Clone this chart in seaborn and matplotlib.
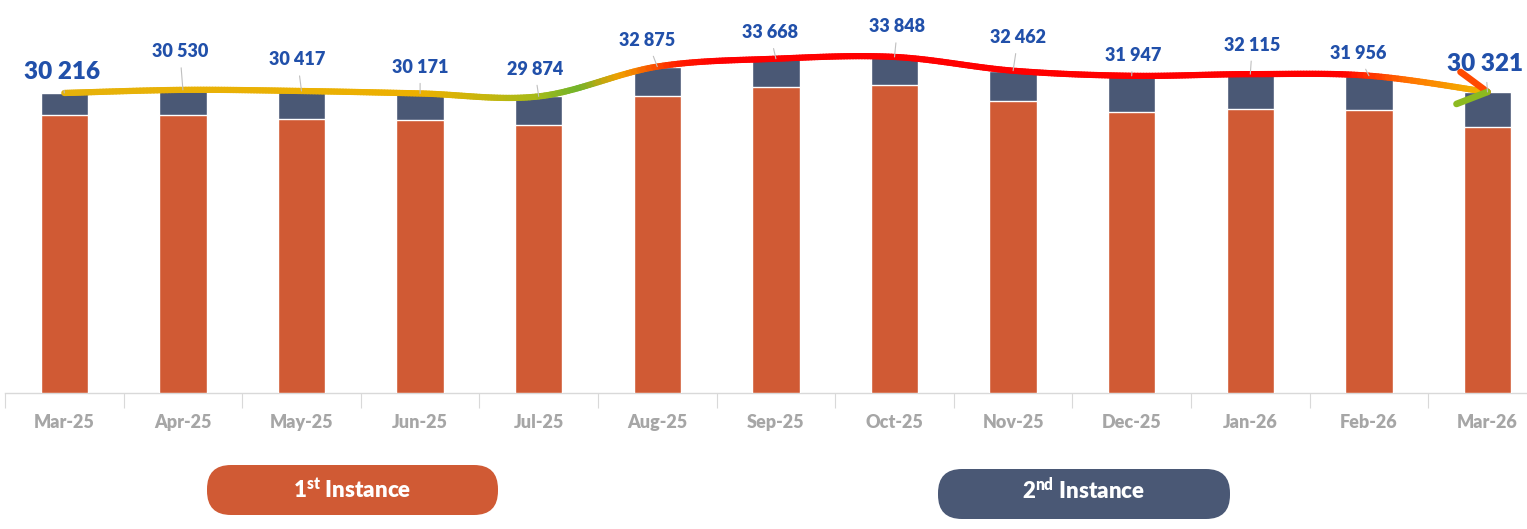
import numpy as np
import pandas as pd
import matplotlib
matplotlib.use("Agg")
import matplotlib.pyplot as plt
import seaborn as sns
from matplotlib.collections import LineCollection
from matplotlib.colors import LinearSegmentedColormap
from matplotlib.patches import FancyBboxPatch

# ---------------- data ----------------
months = ["Mar-25", "Apr-25", "May-25", "Jun-25", "Jul-25", "Aug-25", "Sep-25",
          "Oct-25", "Nov-25", "Dec-25", "Jan-26", "Feb-26", "Mar-26"]
first_instance = [28000, 28000, 27600, 27500, 27000, 29900, 30800,
                  31000, 29400, 28300, 28600, 28500, 26800]
second_instance = [2216, 2530, 2817, 2671, 2874, 2975, 2868,
                   2848, 3062, 3647, 3515, 3456, 3521]
series_names = ["1st Instance", "2nd Instance"]

# ---------------- style ----------------
ORANGE = "#D05A34"
NAVY = "#4A5875"
BLUE = "#2150AA"
GRAY = "#A6A6A6"

sns.set_theme(style="white")
plt.rcParams["font.family"] = ["Lato", "DejaVu Sans"]
plt.rcParams["font.weight"] = "bold"
plt.rcParams["mathtext.fontset"] = "custom"
plt.rcParams["mathtext.bf"] = "Lato:heavy"
plt.rcParams["mathtext.rm"] = "Lato:heavy"

totals = [a + b for a, b in zip(first_instance, second_instance)]
df = pd.DataFrame({"month": months, "first": first_instance, "total": totals})

W, H = 1527, 529
fig = plt.figure(figsize=(W / 100, H / 100), dpi=100)
ax = fig.add_axes([5 / W, 136 / H, 1522 / W, 393 / H])

sns.barplot(data=df, x="month", y="total", color=NAVY, width=0.4,
            saturation=1, ax=ax, zorder=2)
sns.barplot(data=df, x="month", y="first", color=ORANGE, width=0.4,
            saturation=1, ax=ax, zorder=3)

XLIM = (-0.5, -0.5 + 1522 / 118.6)
YLIM = (0, 39582)
ax.set_autoscale_on(False)
ax.set_xlim(*XLIM)
ax.set_ylim(*YLIM)
ax.set_xlabel("")
ax.set_ylabel("")
ax.set_yticks([])
sns.despine(ax=ax, left=True, top=True, right=True)
ax.spines["bottom"].set_color("#D9D9D9")
ax.spines["bottom"].set_linewidth(1.0)
ax.tick_params(axis="x", which="major", length=0, pad=15, labelsize=13,
               labelcolor=GRAY)
for lab in ax.get_xticklabels():
    lab.set_fontweight("heavy")
ax.set_xticks(np.arange(-0.5, 13, 1), minor=True)
ax.tick_params(axis="x", which="minor", length=11, width=0.8, color="#D9D9D9",
               direction="out", bottom=True)

# ---------------- smooth trend line ----------------
xs = np.arange(len(totals), dtype=float)
ys = np.array(totals, dtype=float)
P = np.column_stack([xs, ys])
P = np.vstack([P[0], P, P[-1]])
pts = []
for i in range(1, len(P) - 2):
    p0, p1, p2, p3 = P[i - 1], P[i], P[i + 1], P[i + 2]
    t = np.linspace(0, 1, 40, endpoint=False)[:, None]
    seg = 0.5 * ((2 * p1) + (-p0 + p2) * t + (2 * p0 - 5 * p1 + 4 * p2 - p3) * t ** 2
                 + (-p0 + 3 * p1 - 3 * p2 + p3) * t ** 3)
    pts.append(seg)
pts.append(P[-2][None, :])
curve = np.vstack(pts)

cmap = LinearSegmentedColormap.from_list("trend", [
    (0.00, "#E6B20A"), (0.25, "#EDB000"), (0.33, "#A8BA18"), (0.36, "#72B42A"),
    (0.39, "#F0A000"), (0.43, "#FF2000"), (0.46, "#FF0000"), (0.90, "#FF0000"),
    (0.95, "#FF7A00"), (1.00, "#F0B800")])
segs = np.stack([curve[:-1], curve[1:]], axis=1)
lc = LineCollection(segs, colors=cmap(curve[:-1, 0] / 12.0), linewidths=4.5,
                    capstyle="round", joinstyle="round", zorder=5)
ax.add_collection(lc, autolim=False)

# arrow head (open chevron)
tip = (xs[-1], ys[-1])
ax.annotate("", xy=tip, xytext=(-27, 20), textcoords="offset pixels",
            arrowprops=dict(arrowstyle="-", lw=4.8, color="#FF4A00",
                            shrinkA=0, shrinkB=0, capstyle="round"), zorder=6)
ax.annotate("", xy=tip, xytext=(-31, -12), textcoords="offset pixels",
            arrowprops=dict(arrowstyle="-", lw=4.8, color="#8CBA20",
                            shrinkA=0, shrinkB=0, capstyle="round"), zorder=6)

# ---------------- value labels ----------------
label_offsets = [21, 38, 31, 26, 27, 26, 26, 30, 33, 20, 29, 22, 28]
label_dx = [-2, -3, -4, 0, -4, -10, -6, 3, 5, 1, 2, -11, -2]
for i, v in enumerate(totals):
    big = i in (0, len(totals) - 1)
    txt = f"{v:,}".replace(",", " ")
    ax.annotate(txt, xy=(i, v), xytext=(label_dx[i], label_offsets[i]),
                textcoords="offset pixels", ha="center", va="center",
                fontsize=17.5 if big else 13, fontweight="heavy", color=BLUE,
                zorder=7,
                arrowprops=dict(arrowstyle="-", color="#BFBFBF", lw=0.8,
                                shrinkA=3, shrinkB=0))

ax.set_xlim(*XLIM)
ax.set_ylim(*YLIM)

# ---------------- legend pills ----------------
ov = fig.add_axes([0, 0, 1, 1])
ov.set_xlim(0, W)
ov.set_ylim(H, 0)
ov.axis("off")
ov.patch.set_alpha(0)
pills = [(207, 465, 291, 50, ORANGE, r"1$^{\mathbf{st}}$ Instance", 491),
         (938, 469, 292, 50, NAVY, r"2$^{\mathbf{nd}}$ Instance", 490)]
for (x0, y0, w, h, c, t, ty), name in zip(pills, series_names):
    ov.add_patch(FancyBboxPatch((x0, y0), w, h,
                                boxstyle="round,pad=0,rounding_size=24",
                                fc=c, ec="none"))
    ov.text(x0 + w / 2, ty, t, ha="center", va="center",
            color="white", fontsize=16, fontweight="heavy")

fig.savefig("out.png", dpi=100)
